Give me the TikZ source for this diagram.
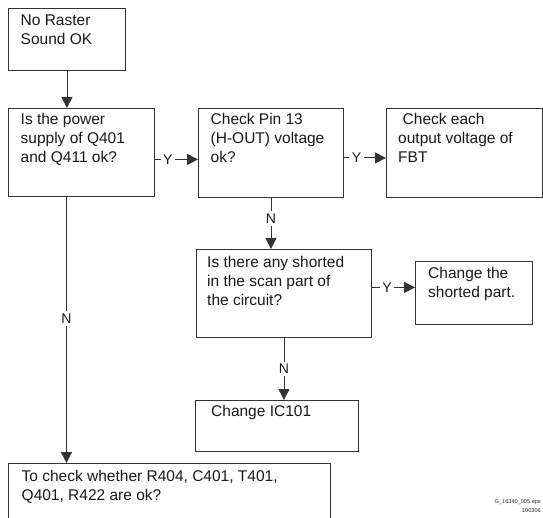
\documentclass[tikz,border=0pt]{standalone}
\usepackage{fontspec}
\setmainfont{Liberation Sans}
\usetikzlibrary{arrows.meta}
\tikzset{
  boxnode/.style={draw=black!80, line width=0.9pt, inner sep=0pt, anchor=north west},
  txt/.style={anchor=base west, align=left, inner sep=0pt, font=\fontsize{15.5}{19}\selectfont, text=black!90},
  conn/.style={draw=black!80, line width=0.9pt},
  arr/.style={conn, -{Triangle[length=11pt,width=11pt]}},
  lab/.style={fill=white, inner sep=2.5pt, font=\fontsize{14}{16}\selectfont, text=black!90},
  foot/.style={anchor=base east, inner sep=0pt, font=\fontsize{5.6}{7}\selectfont, text=black!85}
}
\newcommand{\mybox}[5]{%
  \node[boxnode, minimum width=#4pt-#2pt, minimum height=#5pt-#3pt] (#1) at (#2,#3) {};}
\begin{document}
\begin{tikzpicture}[x=1pt,y=-1pt]
\useasboundingbox (0,0) rectangle (543,518);
\begin{scope}
\clip (0,0) rectangle (543,518);
% boxes: name, x1, y1, x2, y2
\mybox{b1}{8}{8}{125}{70}
\mybox{b2}{8}{108}{154}{196}
\mybox{b3}{198}{108}{343}{197}
\mybox{b4}{386}{108}{541.5}{197}
\mybox{b5}{196}{249}{371}{337}
\mybox{b6}{415}{261}{532}{324}
\mybox{b7}{195}{400}{358}{451}
\mybox{b8}{8}{463}{330}{530}
\end{scope}
% texts (anchored at the baseline of their last line)
\node[txt] (t1) at (20.5,44.5) {No Raster\\Sound OK};
\node[txt] (t2) at (20.5,162.5) {Is the power\\supply of Q401\\and Q411 ok?};
\node[txt] (t3) at (210.5,162.5) {Check Pin 13\\(H-OUT) voltage\\ok?};
\node[txt] (t4) at (398,162.5) {\hspace{4.5pt}Check each\\output voltage of\\FBT};
\node[txt] (t5) at (207,305.5) {Is there any shorted\\in the scan part of\\the circuit?};
\node[txt] (t6) at (428,297.5) {Change the\\shorted part.};
\node[txt] (t7) at (211,416.5) {Change IC101};
\node[txt] (t8) at (21.5,500) {To check whether R404, C401, T401,\\Q401, R422 are ok?};
% connectors
\draw[arr] (b1.south) -- (b1.south |- b2.north);
\draw[arr] ([yshift=-7pt]b2.east) -- node[lab, pos=0.3] {Y} ([yshift=-7pt]b2.east -| b3.west);
\draw[arr] ([yshift=-5pt]b3.east) -- node[lab, pos=0.3] {Y} ([yshift=-5pt]b3.east -| b4.west);
\draw[arr] (b3.south) -- node[lab, pos=0.4] {N} (b3.south |- b5.north);
\draw[arr] ([yshift=6pt]b5.east) -- node[lab, pos=0.35] {Y} ([yshift=6pt]b5.east -| b6.west);
\draw[arr] (b5.south) -- node[lab, pos=0.5] {N} (b5.south |- b7.north);
\draw[arr] ([xshift=-15pt]b2.south) -- node[lab, pos=0.457] {N} ([xshift=-15pt]b2.south |- b8.north);
% footer
\node[foot] (f1) at (541,503) {G\_16340\_005.eps};
\node[foot] (f2) at (541,512) {100306};
\end{tikzpicture}
\end{document}
